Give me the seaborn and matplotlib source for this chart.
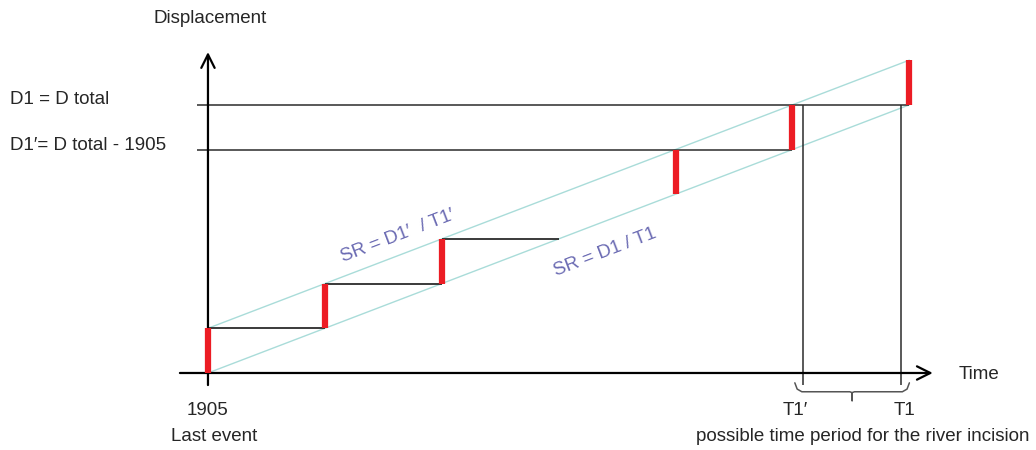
import matplotlib.pyplot as plt
import pandas as pd
import seaborn as sns

# schematic values (time in event intervals, displacement in slip per event)
event_times = [0, 1, 2, 4, 5, 6]
event_base = [0, 1, 2, 4, 5, 6]
slip = 1
step_levels = [1, 2, 3]
step_start = [0, 1, 2]
step_end = [1, 2, 3]
sr_time = [0, 6]
sr_upper = [1, 7]   # SR = D1' / T1'
sr_lower = [0, 6]   # SR = D1 / T1
D1 = 6
D1p = 5
T1 = 5.93
T1p = 5.09

red = "#ec1c24"
cyan = "#a9dcd9"
dark = "#2b2b2b"
purple = "#6b6bb3"

sns.set_theme(style="white")
plt.rcParams["font.family"] = ["Liberation Sans", "DejaVu Sans"]

fig = plt.figure(figsize=(10.36, 4.5), dpi=100)
ax = fig.add_axes([0, 0, 1, 1])
ax.set_xlim(-1.779, 7.083)
ax.set_ylim(-1.723, 8.345)
ax.set_axis_off()

df = pd.DataFrame({
    "time": sr_time + sr_time,
    "disp": sr_upper + sr_lower,
    "line": ["upper"] * 2 + ["lower"] * 2,
})
sns.lineplot(data=df, x="time", y="disp", hue="line", palette=[cyan, cyan],
             legend=False, lw=1, ax=ax)

# axes with arrows
arrow = dict(arrowstyle="->", lw=1.6, color="black", mutation_scale=24, shrinkA=0, shrinkB=0)
ax.annotate("", xy=(0, 7.18), xytext=(0, -0.27), arrowprops=arrow)
ax.annotate("", xy=(6.2, 0), xytext=(-0.24, 0), arrowprops=arrow)

# reference levels and times
ax.hlines([D1, D1p], -0.094, [6, 5], color=dark, lw=1.1)
ax.vlines([T1p, T1], -0.27, D1, color=dark, lw=1.1)

# stair steps
ax.hlines(step_levels, step_start, step_end, color=dark, lw=1.3)

# events
ax.vlines(event_times, event_base, [b + slip for b in event_base], color=red, lw=4.5,
          zorder=5)

# brace below the time axis
bx = [5.02, 5.04, 5.08, 5.49, 5.51, 5.51, 5.51, 5.53, 5.94, 5.98, 6.0]
by = [-0.22, -0.36, -0.42, -0.42, -0.44, -0.62, -0.44, -0.42, -0.42, -0.36, -0.22]
ax.plot(bx, by, color="#555555", lw=1.1, solid_joinstyle="round")

fs = 13.5
ax.text(0.017, 7.94, "Displacement", ha="center", va="center", fontsize=fs)
ax.text(-1.694, 6.11, "D1 = D total", ha="left", va="center", fontsize=fs)
ax.text(-1.694, 5.08, "D1\u2032= D total - 1905", ha="left", va="center", fontsize=fs)
ax.text(6.42, -0.04, "Time", ha="left", va="center", fontsize=fs)
ax.text(0, -0.83, "1905", ha="center", va="center", fontsize=fs)
ax.text(0.05, -1.43, "Last event", ha="center", va="center", fontsize=fs)
ax.text(T1p - 0.07, -0.83, "T1\u2032", ha="center", va="center", fontsize=fs)
ax.text(T1 + 0.03, -0.83, "T1", ha="center", va="center", fontsize=fs)
ax.text(5.60, -1.43, "possible time period for the river incision", ha="center",
        va="center", fontsize=fs)
ax.text(1.625, 3.06, "SR = D1\u2032  / T1\u2032", ha="center", va="center", fontsize=fs,
        color=purple, rotation=21, rotation_mode="anchor")
ax.text(3.40, 2.71, "SR = D1 / T1", ha="center", va="center", fontsize=fs,
        color=purple, rotation=21, rotation_mode="anchor")

fig.savefig("out.png", dpi=100)
